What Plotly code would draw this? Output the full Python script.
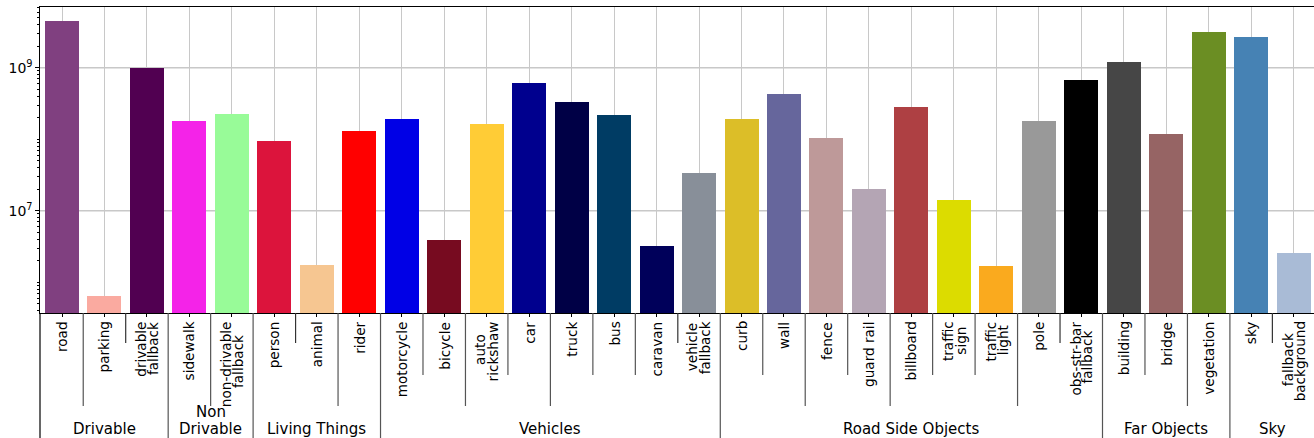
import plotly.graph_objects as go

# ---------------- data ----------------
categories = [
    "road", "parking", "drivable<br>fallback",
    "sidewalk", "non-drivable<br>fallback",
    "person", "animal", "rider",
    "motorcycle", "bicycle", "auto<br>rickshaw", "car", "truck", "bus", "caravan", "vehicle<br>fallback",
    "curb", "wall", "fence", "guard rail", "billboard", "traffic<br>sign", "traffic<br>light", "pole", "obs-str-bar<br>fallback",
    "building", "bridge", "vegetation",
    "sky", "fallback<br>background",
]
pixel_counts = [
    4.5e9, 6.5e5, 1.0e9,
    1.82e8, 2.28e8,
    9.5e7, 1.76e6, 1.31e8,
    1.94e8, 3.9e6, 1.65e8, 6.2e8, 3.34e8, 2.2e8, 3.2e6, 3.4e7,
    1.94e8, 4.33e8, 1.05e8, 2.03e7, 2.85e8, 1.43e7, 1.7e6, 1.82e8, 6.8e8,
    1.21e9, 1.19e8, 3.18e9,
    2.72e9, 2.6e6,
]
groups = ["Drivable", "Non<br>Drivable", "Living Things", "Vehicles", "Road Side Objects", "Far Objects", "Sky"]
group_sizes = [3, 2, 3, 8, 9, 3, 2]
colors = [
    "rgb(128,64,128)", "rgb(250,170,160)", "rgb(81,0,81)",
    "rgb(244,35,232)", "rgb(152,251,152)",
    "rgb(220,20,60)", "rgb(246,198,145)", "rgb(255,0,0)",
    "rgb(0,0,230)", "rgb(119,11,32)", "rgb(255,204,54)", "rgb(0,0,142)", "rgb(0,0,70)", "rgb(0,60,100)", "rgb(0,0,90)", "rgb(136,143,153)",
    "rgb(220,190,40)", "rgb(102,102,156)", "rgb(190,153,153)", "rgb(180,165,180)", "rgb(174,64,67)", "rgb(220,220,0)", "rgb(250,170,30)", "rgb(153,153,153)", "rgb(0,0,0)",
    "rgb(70,70,70)", "rgb(150,100,100)", "rgb(107,142,35)",
    "rgb(70,130,180)", "rgb(169,187,214)",
]
# depth of the separator drawn after each bar inside a group (1 short, 2 medium, 3 long)
separator_depth = [
    3, 1,
    3,
    1, 3,
    2, 3, 2, 3, 2, 2, 1,
    2, 3, 2, 3, 2, 2, 3, 1,
    2, 3,
    1,
]

FONT = "DejaVu Sans"
W, H = 1314, 438
ML, MT, MB = 40, 7, 125
plot_h = H - MT - MB
n = len(categories)
X0, X1 = -0.518, 29.48
px_per_unit = (W - ML) / (X1 - X0)

# approximate DejaVu Sans advance widths (1/1000 em) used to centre stacked label lines
GLYPH_W = {"a": 613, "b": 635, "c": 550, "d": 635, "e": 615, "f": 352, "g": 635, "h": 634,
           "i": 278, "k": 579, "l": 278, "n": 634, "o": 612, "r": 411, "s": 521, "t": 392,
           "u": 634, "v": 592, "w": 818, "y": 592, "-": 361, " ": 318}
LABEL_SIZE = 13.6
LABEL_SCALE = LABEL_SIZE * 0.85 / 1000  # px per glyph unit

def text_len(t):
    return sum(GLYPH_W.get(ch, 600) for ch in t) * LABEL_SCALE

def py(pix):
    """pixel row -> paper y"""
    return (H - MB - pix) / plot_h

fig = go.Figure()
fig.add_trace(go.Bar(
    x=list(range(n)), y=pixel_counts, width=0.8,
    marker=dict(color=colors, line=dict(width=0)),
    showlegend=False,
))

LABEL_TOP = 319.5
LINE_GAP = 12.5
label_font = dict(family=FONT, size=LABEL_SIZE, color="black")
annotations = []
for i, c in enumerate(categories):
    lines = c.split("<br>")
    longest = max(text_len(t) for t in lines)
    k = len(lines)
    for j, t in enumerate(lines):
        dx = (j - (k - 1) / 2) * LINE_GAP / px_per_unit
        top = LABEL_TOP + (longest - text_len(t)) / 2
        annotations.append(dict(
            x=i + dx, xref="x", y=py(top), yref="paper", text=t, showarrow=False,
            textangle=-90, xanchor="center", yanchor="top", font=label_font,
        ))

shapes = []
# separators
level_px = {1: 343, 2: 375, 3: 406, 4: H + 2}
GROUP_BASE = 440
GROUP_GAP = 17.5
start = 0
sep_iter = iter(separator_depth)
for gi, (g, s) in enumerate(zip(groups, group_sizes)):
    center = start + (s - 1) / 2
    glines = g.split("<br>")
    for j, t in enumerate(reversed(glines)):
        annotations.append(dict(
            x=center, xref="x", y=py(GROUP_BASE - j * GROUP_GAP), yref="paper", text=t,
            showarrow=False, xanchor="center", yanchor="bottom",
            font=dict(family=FONT, size=15, color="black"),
        ))
    for k in range(s - 1):
        d = next(sep_iter)
        shapes.append(dict(type="line", xref="x", yref="paper",
                           x0=start + k + 0.5, x1=start + k + 0.5,
                           y0=0, y1=py(level_px[d]),
                           line=dict(color="#333" if d == 1 else "#555", width=1.2)))
    end = start + s
    if gi < len(groups) - 1:
        shapes.append(dict(type="line", xref="x", yref="paper",
                           x0=end - 0.5, x1=end - 0.5, y0=0, y1=py(level_px[4]),
                           line=dict(color="#555", width=1.2)))
    start = end

# left spine continuing below the axis
shapes.append(dict(type="line", xref="paper", yref="paper", x0=0, x1=0,
                   y0=0, y1=py(H + 2), line=dict(color="black", width=1.2)))

fig.update_layout(
    width=W, height=H,
    margin=dict(l=ML, r=0, t=MT, b=MB, pad=0),
    plot_bgcolor="white", paper_bgcolor="white",
    bargap=0,
    annotations=annotations, shapes=shapes,
    font=dict(family=FONT, color="black"),
    xaxis=dict(
        range=[X0, X1], tickvals=list(range(n)), showticklabels=False,
        ticks="outside", ticklen=3, tickcolor="black",
        showgrid=True, gridcolor="#c8c8c8", gridwidth=1.2,
        showline=True, linecolor="black", linewidth=1.2, mirror=True,
        zeroline=False, fixedrange=True,
    ),
    yaxis=dict(
        type="log", range=[5.569, 9.849],
        tickvals=[1e7, 1e9],
        ticktext=["10<sup>7</sup>", "10<sup>9</sup>"],
        ticks="outside", ticklen=3.5, tickcolor="black",
        tickfont=dict(family=FONT, size=14),
        showgrid=False,
        minor=dict(ticks="outside", ticklen=2, tickcolor="black", dtick="D1", showgrid=False),
        showline=True, linecolor="black", linewidth=1.2,
        zeroline=False, fixedrange=True,
    ),
)
# horizontal grid lines only at labelled decades
for v in [1e7, 1e9]:
    fig.add_shape(type="line", xref="paper", yref="y", x0=0, x1=1, y0=v, y1=v,
                  line=dict(color="#c8c8c8", width=1.5), layer="below")

fig.write_html("out.html")
